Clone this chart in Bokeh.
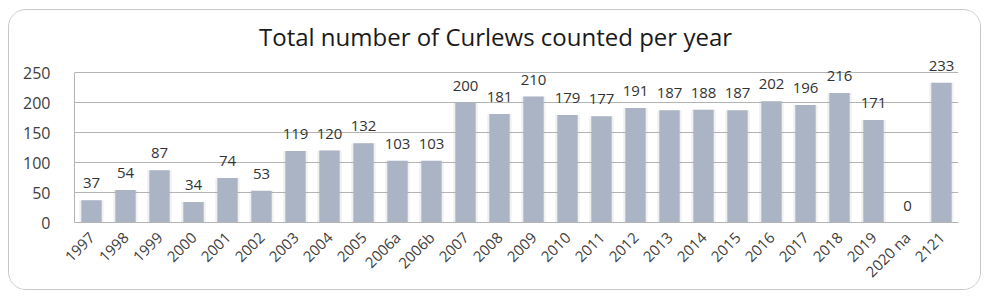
import math
from bokeh.plotting import figure
from bokeh.models import ColumnDataSource, Label, FactorRange, FixedTicker
from bokeh.core.properties import value
from bokeh.embed import file_html
from bokeh.resources import INLINE

years = ["1997", "1998", "1999", "2000", "2001", "2002", "2003", "2004", "2005",
         "2006a", "2006b", "2007", "2008", "2009", "2010", "2011", "2012", "2013",
         "2014", "2015", "2016", "2017", "2018", "2019", "2020 na", "2121"]
counts = [37, 54, 87, 34, 74, 53, 119, 120, 132, 103, 103, 200, 181, 210, 179,
          177, 191, 187, 188, 187, 202, 196, 216, 171, 0, 233]
y_ticks = [0, 50, 100, 150, 200, 250]
title_text = "Total number of Curlews counted per year"

src = ColumnDataSource(dict(x=years, y=counts, lbl=[str(c) for c in counts]))

p = figure(x_range=FactorRange(*years, range_padding=0), y_range=(0, 350),
           width=973, height=281, output_backend="svg", toolbar_location=None,
           min_border_left=65, min_border_right=24, min_border_top=2, min_border_bottom=69,
           margin=(9, 0, 0, 8),
           styles={"border": "1px solid #c8c8c8", "border-radius": "18px", "box-sizing": "border-box",
                   "overflow": "hidden"})
p.outline_line_color = None
p.background_fill_color = "white"
p.border_fill_color = "white"

# soft shadow
p.vbar(x="x", top="y", width=0.72, source=src, color="#8a8a8a", alpha=0.12, line_color=None)
p.vbar(x="x", top="y", width=0.6, source=src, color="#abb4c5", line_color=None)
p.text(x="x", y="y", text="lbl", source=src, text_align="center", text_baseline="middle",
       y_offset=-17, text_font_size="15px", text_color="#333333", text_font=value("Open Sans"))

p.xgrid.grid_line_color = None
p.ygrid.grid_line_color = "#b4b4b4"
p.ygrid.ticker = FixedTicker(ticks=y_ticks)
p.yaxis.ticker = FixedTicker(ticks=y_ticks)
p.yaxis.bounds = (0, 250)

for ax in (p.xaxis, p.yaxis):
    ax.axis_line_color = "#b4b4b4"
    ax.major_tick_line_color = None
    ax.minor_tick_line_color = None
    ax.major_label_text_font = "Open Sans"
    ax.major_label_text_font_size = "15px"
    ax.major_label_text_color = "#404040"
p.yaxis.major_label_text_font_size = "16px"
p.yaxis.major_label_standoff = 18
p.xaxis.major_label_orientation = math.pi / 4
p.xaxis.major_label_standoff = 6

p.add_layout(Label(x=421, y=186, x_units="screen", y_units="screen", text=title_text,
                   text_align="center", text_baseline="middle", text_font="Open Sans",
                   text_font_size="24px", text_color="#1a1a1a"))

open("out.html", "w").write(file_html(p, INLINE))
